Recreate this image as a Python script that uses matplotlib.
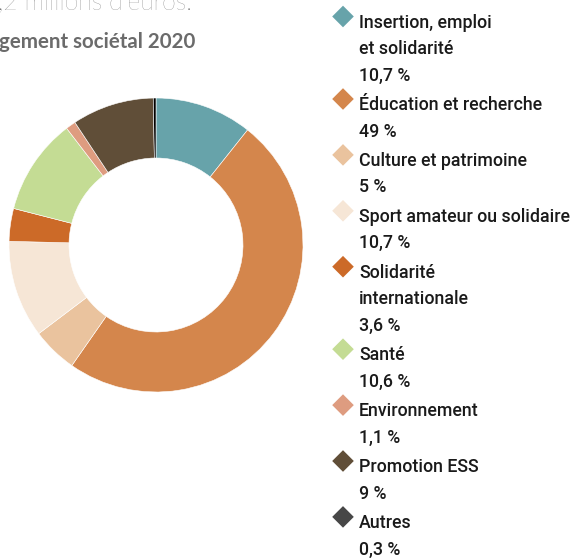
import matplotlib
matplotlib.use("Agg")
import matplotlib.pyplot as plt
from matplotlib.patches import Polygon

# Répartition de l'engagement sociétal 2020 (en %)
categories = [
    "Insertion, emploi\net solidarité",
    "Éducation et recherche",
    "Culture et patrimoine",
    "Sport amateur ou solidaire",
    "Solidarité\ninternationale",
    "Santé",
    "Environnement",
    "Promotion ESS",
    "Autres",
]
values = [10.7, 49, 5, 10.7, 3.6, 10.6, 1.1, 9, 0.3]
value_labels = ["10,7 %", "49 %", "5 %", "10,7 %", "3,6 %", "10,6 %", "1,1 %", "9 %", "0,3 %"]
colors = ["#67a3aa", "#d4864c", "#eac39e", "#f6e6d6", "#cc6a28",
          "#c4dc94", "#de9c80", "#604e38", "#000000"]
legend_colors = colors[:-1] + ["#474747"]

W, H = 570, 560
fig = plt.figure(figsize=(W / 100, H / 100), dpi=100)
ax = fig.add_axes([0, 0, 1, 1])

# Anneau
cx, cy, r_out = 156, H - 245, 147
ring_width = 60
ax.pie(values, colors=colors, startangle=90, counterclock=False,
       center=(cx, cy), radius=r_out,
       wedgeprops=dict(width=ring_width, edgecolor="white", linewidth=0.4),
       frame=True)
ax.set_xlim(0, W)
ax.set_ylim(0, H)
ax.set_aspect("equal")
ax.axis("off")

# Titres (partiellement hors cadre)
fig.text(-2 / W, 1 - 10 / H, ",2 millions d’euros.", family=["Lato", "DejaVu Sans"],
         fontweight="light", fontsize=17.8, color="#6a6a6a", ha="left", va="baseline")
fig.text(-1 / W, 1 - 48 / H, "gement sociétal 2020", family=["Lato", "DejaVu Sans"],
         fontweight="bold", fontsize=14.8, color="#6b6b6b", ha="left", va="baseline")

# Légende
leg_font = ["Roboto", "DejaVu Sans"]
text_x = 359
marker_x = 343
half = 10.8
line_step = 26.6
entry_gap = 29.3
baseline = 27.5
for cat, lab, col in zip(categories, value_labels, legend_colors):
    lines = cat.split("\n") + [lab]
    # losange
    my = H - (baseline - 11)
    ax.add_patch(Polygon([(marker_x - half, my), (marker_x, my + half),
                          (marker_x + half, my), (marker_x, my - half)],
                         closed=True, facecolor=col, edgecolor="none"))
    for i, ln in enumerate(lines):
        y = baseline + i * line_step
        ax.text(text_x, H - y, ln, family=leg_font, fontsize=12.8,
                fontweight="medium", color="#1a1a1a", ha="left", va="baseline")
    baseline += (len(lines) - 1) * line_step + entry_gap

fig.savefig("out.png", dpi=100)
